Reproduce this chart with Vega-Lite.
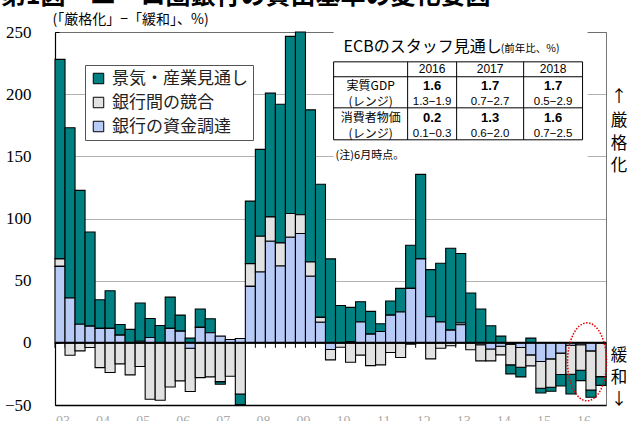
{
  "$schema": "https://vega.github.io/schema/vega-lite/v6.json",
  "width": 551,
  "height": 373,
  "autosize": {"type": "none"},
  "padding": {"left": 55, "top": 32, "right": 25, "bottom": 16},
  "background": "white",
  "config": {
    "view": {"stroke": "#777", "strokeWidth": 1},
    "font": "Noto Sans CJK JP"
  },
  "datasets": {
    "bls": [
      {"q": "2002Q4", "景気・産業見通し": 160.5, "銀行間の競合": 6, "銀行の資金調達": 61.5},
      {"q": "2003Q1", "景気・産業見通し": 137, "銀行間の競合": -10, "銀行の資金調達": 36},
      {"q": "2003Q2", "景気・産業見通し": 107.6, "銀行間の競合": -6.5, "銀行の資金調達": 15},
      {"q": "2003Q3", "景気・産業見通し": 75.8, "銀行間の競合": -3.8, "銀行の資金調達": 13.4},
      {"q": "2003Q4", "景気・産業見通し": 23, "銀行間の競合": -19.9, "銀行の資金調達": 11.6},
      {"q": "2004Q1", "景気・産業見通し": 30.3, "銀行間の競合": -23.9, "銀行の資金調達": 11.6},
      {"q": "2004Q2", "景気・産業見通し": 8.6, "銀行間の競合": -16.9, "銀行の資金調達": 6.2},
      {"q": "2004Q3", "景気・産業見通し": 10.8, "銀行間の競合": -25.8, "銀行の資金調達": 0},
      {"q": "2004Q4", "景気・産業見通し": 30.7, "銀行間の競合": -19, "銀行の資金調達": 1.3},
      {"q": "2005Q1", "景気・産業見通し": 15.3, "銀行間の競合": -45.4, "銀行の資金調達": 4.3},
      {"q": "2005Q2", "景気・産業見通し": 14, "銀行間の競合": -46.2, "銀行の資金調達": 0},
      {"q": "2005Q3", "景気・産業見通し": 25.2, "銀行間の競合": -35.5, "銀行の資金調達": 11.6},
      {"q": "2005Q4", "景気・産業見通し": 12.9, "銀行間の競合": -30.6, "銀行の資金調達": 9.4},
      {"q": "2006Q1", "景気・産業見通し": 3.8, "銀行間の競合": -34.9, "銀行の資金調達": -4.3},
      {"q": "2006Q2", "景気・産業見通し": 14.8, "銀行間の競合": -28, "銀行の資金調達": 12.4},
      {"q": "2006Q3", "景気・産業見通し": 11.3, "銀行間の競合": -27.4, "銀行の資金調達": 8.1},
      {"q": "2006Q4", "景気・産業見通し": -2.1, "銀行間の競合": -31.2, "銀行の資金調達": 5.4},
      {"q": "2007Q1", "景気・産業見通し": 0, "銀行間の競合": -26.9, "銀行の資金調達": 2.7},
      {"q": "2007Q2", "景気・産業見通し": -8.6, "銀行間の競合": -41.1, "銀行の資金調達": 3.5},
      {"q": "2007Q3", "景気・産業見通し": 50.3, "銀行間の競合": 18.3, "銀行の資金調達": 45.4},
      {"q": "2007Q4", "景気・産業見通し": 69.9, "銀行間の競合": 28.7, "銀行の資金調達": 57},
      {"q": "2008Q1", "景気・産業見通し": 99.5, "銀行間の競合": 19.6, "銀行の資金調達": 81.7},
      {"q": "2008Q2", "景気・産業見通し": 111.5, "銀行間の競合": 18.6, "銀行の資金調達": 61.8},
      {"q": "2008Q3", "景気・産業見通し": 142.5, "銀行間の競合": 19.1, "銀行の資金調達": 84.9},
      {"q": "2008Q4", "景気・産業見通し": 147, "銀行間の競合": 15.1, "銀行の資金調達": 87.9},
      {"q": "2009Q1", "景気・産業見通し": 122.4, "銀行間の競合": 11.5, "銀行の資金調達": 53.5},
      {"q": "2009Q2", "景気・産業見通し": 107, "銀行間の競合": 4, "銀行の資金調達": 16.5},
      {"q": "2009Q3", "景気・産業見通し": 67.5, "銀行間の競合": -8.3, "銀行の資金調達": -5.4},
      {"q": "2009Q4", "景気・産業見通し": 30, "銀行間の競合": -3.5, "銀行の資金調達": 0},
      {"q": "2010Q1", "景気・産業見通し": 27.5, "銀行間の競合": -15.6, "銀行の資金調達": 1},
      {"q": "2010Q2", "景気・産業見通し": 16.4, "銀行間の競合": -9.9, "銀行の資金調達": 16.7},
      {"q": "2010Q3", "景気・産業見通し": 18.3, "銀行間の競合": -18.3, "銀行の資金調達": 7},
      {"q": "2010Q4", "景気・産業見通し": 6.2, "銀行間の競合": -17.7, "銀行の資金調達": 9.1},
      {"q": "2011Q1", "景気・産業見通し": 11.3, "銀行間の競合": -7.8, "銀行の資金調達": 22.3},
      {"q": "2011Q2", "景気・産業見通し": 19, "銀行間の競合": -11.8, "銀行の資金調達": 24.8},
      {"q": "2011Q3", "景気・産業見通し": 34.7, "銀行間の競合": -1, "銀行の資金調達": 43.8},
      {"q": "2011Q4", "景気・産業見通し": 68, "銀行間の競合": 0, "銀行の資金調達": 67.5},
      {"q": "2012Q1", "景気・産業見通し": 37.9, "銀行間の競合": -12.9, "銀行の資金調達": 21},
      {"q": "2012Q2", "景気・産業見通し": 47.3, "銀行間の競合": -4.3, "銀行の資金調達": 16.7},
      {"q": "2012Q3", "景気・産業見通し": 65.9, "銀行間の競合": -2.4, "銀行の資金調達": 10.2},
      {"q": "2012Q4", "景気・産業見通し": 55.8, "銀行間の競合": 1.5, "銀行の資金調達": 14.5},
      {"q": "2013Q1", "景気・産業見通し": 40.1, "銀行間の競合": -5.6, "銀行の資金調達": 0},
      {"q": "2013Q2", "景気・産業見通し": 27.2, "銀行間の競合": -13, "銀行の資金調達": -1.5},
      {"q": "2013Q3", "景気・産業見通し": 13.7, "銀行間の競合": -9.5, "銀行の資金調達": -5},
      {"q": "2013Q4", "景気・産業見通し": 5.4, "銀行間の競合": -7, "銀行の資金調達": -2.7},
      {"q": "2014Q1", "景気・産業見通し": -7.3, "銀行間の競合": -16.7, "銀行の資金調達": -1},
      {"q": "2014Q2", "景気・産業見通し": -7.8, "銀行間の競合": -15.8, "銀行の資金調達": -3.8},
      {"q": "2014Q3", "景気・産業見通し": 3.8, "銀行間の競合": -8.8, "銀行の資金調達": -9.7},
      {"q": "2014Q4", "景気・産業見通し": -3.8, "銀行間の競合": -21.5, "銀行の資金調達": -15},
      {"q": "2015Q1", "景気・産業見通し": -3.3, "銀行間の競合": -22.8, "銀行の資金調達": -12.9},
      {"q": "2015Q2", "景気・産業見通し": -9.2, "銀行間の競合": -17.2, "銀行の資金調達": -8.3},
      {"q": "2015Q3", "景気・産業見通し": -15.8, "銀行間の競合": -23.3, "銀行の資金調達": -2},
      {"q": "2015Q4", "景気・産業見通し": -8.4, "銀行間の競合": -20.5, "銀行の資金調達": -1.5},
      {"q": "2016Q1", "景気・産業見通し": -5.9, "銀行間の競合": -31.4, "銀行の資金調達": -6.5},
      {"q": "2016Q2", "景気・産業見通し": -7, "銀行間の競合": -27.2, "銀行の資金調達": 0}
    ]
  },
  "layer": [
    {
      "data": {"name": "bls"},
      "layer": [
        {
          "mark": {"type": "rule", "color": "black", "strokeWidth": 1},
          "encoding": {
            "x": {"field": "q", "type": "ordinal", "bandPosition": 0,
                  "scale": {"type": "band", "paddingInner": 0, "paddingOuter": 0}},
            "y": {"datum": 0, "type": "quantitative"},
            "y2": {"datum": -4}
          }
        },
        {
          "transform": [
            {"fold": ["景気・産業見通し", "銀行間の競合", "銀行の資金調達"], "as": ["s", "val"]},
            {"calculate": "indexof(['銀行の資金調達','銀行間の競合','景気・産業見通し'], datum.s)", "as": "k"}
          ],
          "mark": {"type": "bar", "stroke": "black", "strokeWidth": 1.1},
          "encoding": {
            "x": {
              "field": "q", "type": "ordinal",
              "scale": {"type": "band", "paddingInner": 0, "paddingOuter": 0},
              "axis": {
                "title": null, "grid": false, "ticks": false, "domain": true,
                "domainColor": "black", "domainWidth": 1.5,
                "labelAngle": 0, "labelPadding": 16, "labelFontSize": 14,
                "labelColor": "#aaa", "labelFont": "Liberation Serif",
                "labelExpr": "slice(datum.value,-2)=='Q1' ? slice(datum.value,2,4) : ''"
              }
            },
            "y": {
              "field": "val", "type": "quantitative", "stack": "zero",
              "scale": {"domain": [-50, 250], "nice": false},
              "axis": {
                "title": null, "values": [-50, 0, 50, 100, 150, 200, 250],
                "grid": true, "gridDash": [1, 1], "gridColor": "#666", "gridWidth": 1,
                "labelFont": "Liberation Serif", "labelFontSize": 17, "labelColor": "black",
                "domainColor": "black", "domainWidth": 1.2,
                "tickSize": -4, "tickColor": "black", "labelPadding": 28
              }
            },
            "color": {
              "field": "s", "type": "nominal",
              "scale": {
                "domain": ["景気・産業見通し", "銀行間の競合", "銀行の資金調達"],
                "range": ["#008080", "#e2e2e2", "#b8cbf7"]
              },
              "legend": {
                "title": null, "orient": "none", "legendX": 30, "legendY": 33,
                "symbolType": "square", "symbolSize": 110,
                "symbolStrokeColor": "black", "symbolStrokeWidth": 1,
                "labelFont": "Noto Sans CJK JP", "labelFontSize": 17, "labelColor": "#222",
                "labelOffset": 5, "rowPadding": 6, "padding": 5,
                "strokeColor": "#555", "fillColor": "white"
              }
            },
            "order": {"field": "k", "type": "quantitative"}
          }
        },
        {
          "data": {"values": [{}]},
          "mark": {"type": "rule", "color": "black", "strokeWidth": 2},
          "encoding": {"y": {"datum": 0, "type": "quantitative"}}
        }
      ]
    },
    {
      "data": {"values": [{}]},
      "layer": [
        {
          "mark": {"type": "rect", "fill": "white"},
          "encoding": {
            "x": {"datum": 27.81, "type": "quantitative", "scale": {"domain": [0, 55], "nice": false, "zero": false}, "axis": null},
            "x2": {"datum": 53.16},
            "y": {"datum": 250, "type": "quantitative"},
            "y2": {"datum": 147.2}
          }
        },
        {
          "mark": {"type": "rect", "fill": "white", "stroke": "black", "strokeWidth": 1},
          "encoding": {
            "x": {"datum": 27.81, "type": "quantitative", "scale": {"domain": [0, 55], "nice": false, "zero": false}, "axis": null},
            "x2": {"datum": 52.66},
            "y": {"datum": 226.0, "type": "quantitative"},
            "y2": {"datum": 163.3}
          }
        },
        {
          "mark": {"type": "rule", "color": "black", "strokeWidth": 1},
          "encoding": {
            "x": {"datum": 27.81, "type": "quantitative", "scale": {"domain": [0, 55], "nice": false, "zero": false}, "axis": null},
            "x2": {"datum": 52.66},
            "y": {"datum": 214.0, "type": "quantitative"}
          }
        },
        {
          "mark": {"type": "rule", "color": "black", "strokeWidth": 1},
          "encoding": {
            "x": {"datum": 27.81, "type": "quantitative", "scale": {"domain": [0, 55], "nice": false, "zero": false}, "axis": null},
            "x2": {"datum": 52.66},
            "y": {"datum": 189.0, "type": "quantitative"}
          }
        },
        {
          "mark": {"type": "rule", "color": "black", "strokeWidth": 1},
          "encoding": {
            "x": {"datum": 35.20, "type": "quantitative", "scale": {"domain": [0, 55], "nice": false, "zero": false}, "axis": null},
            "y": {"datum": 226.0, "type": "quantitative"},
            "y2": {"datum": 163.3}
          }
        },
        {
          "mark": {"type": "rule", "color": "black", "strokeWidth": 1},
          "encoding": {
            "x": {"datum": 40.09, "type": "quantitative", "scale": {"domain": [0, 55], "nice": false, "zero": false}, "axis": null},
            "y": {"datum": 226.0, "type": "quantitative"},
            "y2": {"datum": 163.3}
          }
        },
        {
          "mark": {"type": "rule", "color": "black", "strokeWidth": 1},
          "encoding": {
            "x": {"datum": 46.78, "type": "quantitative", "scale": {"domain": [0, 55], "nice": false, "zero": false}, "axis": null},
            "y": {"datum": 226.0, "type": "quantitative"},
            "y2": {"datum": 163.3}
          }
        },
        {
          "mark": {"type": "text", "align": "left", "baseline": "middle", "fontSize": 16, "font": "Noto Sans CJK JP", "color": "black"},
          "encoding": {
            "x": {"datum": 28.81, "type": "quantitative", "scale": {"domain": [0, 55], "nice": false, "zero": false}, "axis": null},
            "y": {"datum": 237.7, "type": "quantitative"},
            "text": {"value": "ECBのスタッフ見通し"}
          }
        },
        {
          "mark": {"type": "text", "align": "left", "baseline": "middle", "fontSize": 10.5, "font": "Noto Sans CJK JP", "color": "black"},
          "encoding": {
            "x": {"datum": 44.5, "type": "quantitative", "scale": {"domain": [0, 55], "nice": false, "zero": false}, "axis": null},
            "y": {"datum": 236.3, "type": "quantitative"},
            "text": {"value": "(前年比、%)"}
          }
        },
        {
          "mark": {"type": "text", "align": "center", "baseline": "middle", "fontSize": 12, "font": "Liberation Sans Narrow, Liberation Sans", "color": "black"},
          "encoding": {
            "x": {"datum": 37.64, "type": "quantitative", "scale": {"domain": [0, 55], "nice": false, "zero": false}, "axis": null},
            "y": {"datum": 220.0, "type": "quantitative"},
            "text": {"value": "2016"}
          }
        },
        {
          "mark": {"type": "text", "align": "center", "baseline": "middle", "fontSize": 12, "font": "Liberation Sans Narrow, Liberation Sans", "color": "black"},
          "encoding": {
            "x": {"datum": 43.43, "type": "quantitative", "scale": {"domain": [0, 55], "nice": false, "zero": false}, "axis": null},
            "y": {"datum": 220.0, "type": "quantitative"},
            "text": {"value": "2017"}
          }
        },
        {
          "mark": {"type": "text", "align": "center", "baseline": "middle", "fontSize": 12, "font": "Liberation Sans Narrow, Liberation Sans", "color": "black"},
          "encoding": {
            "x": {"datum": 49.72, "type": "quantitative", "scale": {"domain": [0, 55], "nice": false, "zero": false}, "axis": null},
            "y": {"datum": 220.0, "type": "quantitative"},
            "text": {"value": "2018"}
          }
        },
        {
          "mark": {"type": "text", "align": "center", "baseline": "middle", "fontSize": 12, "font": "Noto Sans CJK JP", "color": "black"},
          "encoding": {
            "x": {"datum": 31.51, "type": "quantitative", "scale": {"domain": [0, 55], "nice": false, "zero": false}, "axis": null},
            "y": {"datum": 206.4, "type": "quantitative"},
            "text": {"value": "実質GDP"}
          }
        },
        {
          "mark": {"type": "text", "align": "center", "baseline": "middle", "fontSize": 12, "font": "Noto Sans CJK JP", "color": "black"},
          "encoding": {
            "x": {"datum": 31.51, "type": "quantitative", "scale": {"domain": [0, 55], "nice": false, "zero": false}, "axis": null},
            "y": {"datum": 194.0, "type": "quantitative"},
            "text": {"value": "(レンジ)"}
          }
        },
        {
          "mark": {"type": "text", "align": "center", "baseline": "middle", "fontSize": 12, "font": "Noto Sans CJK JP", "color": "black"},
          "encoding": {
            "x": {"datum": 31.51, "type": "quantitative", "scale": {"domain": [0, 55], "nice": false, "zero": false}, "axis": null},
            "y": {"datum": 180.7, "type": "quantitative"},
            "text": {"value": "消費者物価"}
          }
        },
        {
          "mark": {"type": "text", "align": "center", "baseline": "middle", "fontSize": 12, "font": "Noto Sans CJK JP", "color": "black"},
          "encoding": {
            "x": {"datum": 31.51, "type": "quantitative", "scale": {"domain": [0, 55], "nice": false, "zero": false}, "axis": null},
            "y": {"datum": 168.2, "type": "quantitative"},
            "text": {"value": "(レンジ)"}
          }
        },
        {
          "mark": {"type": "text", "align": "center", "baseline": "middle", "fontSize": 13, "fontWeight": "bold", "font": "Liberation Sans Narrow, Liberation Sans", "color": "black"},
          "encoding": {
            "x": {"datum": 37.64, "type": "quantitative", "scale": {"domain": [0, 55], "nice": false, "zero": false}, "axis": null},
            "y": {"datum": 206.4, "type": "quantitative"},
            "text": {"value": "1.6"}
          }
        },
        {
          "mark": {"type": "text", "align": "center", "baseline": "middle", "fontSize": 13, "fontWeight": "bold", "font": "Liberation Sans Narrow, Liberation Sans", "color": "black"},
          "encoding": {
            "x": {"datum": 43.43, "type": "quantitative", "scale": {"domain": [0, 55], "nice": false, "zero": false}, "axis": null},
            "y": {"datum": 206.4, "type": "quantitative"},
            "text": {"value": "1.7"}
          }
        },
        {
          "mark": {"type": "text", "align": "center", "baseline": "middle", "fontSize": 13, "fontWeight": "bold", "font": "Liberation Sans Narrow, Liberation Sans", "color": "black"},
          "encoding": {
            "x": {"datum": 49.72, "type": "quantitative", "scale": {"domain": [0, 55], "nice": false, "zero": false}, "axis": null},
            "y": {"datum": 206.4, "type": "quantitative"},
            "text": {"value": "1.7"}
          }
        },
        {
          "mark": {"type": "text", "align": "center", "baseline": "middle", "fontSize": 13, "fontWeight": "bold", "font": "Liberation Sans Narrow, Liberation Sans", "color": "black"},
          "encoding": {
            "x": {"datum": 37.64, "type": "quantitative", "scale": {"domain": [0, 55], "nice": false, "zero": false}, "axis": null},
            "y": {"datum": 180.7, "type": "quantitative"},
            "text": {"value": "0.2"}
          }
        },
        {
          "mark": {"type": "text", "align": "center", "baseline": "middle", "fontSize": 13, "fontWeight": "bold", "font": "Liberation Sans Narrow, Liberation Sans", "color": "black"},
          "encoding": {
            "x": {"datum": 43.43, "type": "quantitative", "scale": {"domain": [0, 55], "nice": false, "zero": false}, "axis": null},
            "y": {"datum": 180.7, "type": "quantitative"},
            "text": {"value": "1.3"}
          }
        },
        {
          "mark": {"type": "text", "align": "center", "baseline": "middle", "fontSize": 13, "fontWeight": "bold", "font": "Liberation Sans Narrow, Liberation Sans", "color": "black"},
          "encoding": {
            "x": {"datum": 49.72, "type": "quantitative", "scale": {"domain": [0, 55], "nice": false, "zero": false}, "axis": null},
            "y": {"datum": 180.7, "type": "quantitative"},
            "text": {"value": "1.6"}
          }
        },
        {
          "mark": {"type": "text", "align": "center", "baseline": "middle", "fontSize": 11.5, "font": "Liberation Sans Narrow, Liberation Sans", "color": "black"},
          "encoding": {
            "x": {"datum": 37.64, "type": "quantitative", "scale": {"domain": [0, 55], "nice": false, "zero": false}, "axis": null},
            "y": {"datum": 194.0, "type": "quantitative"},
            "text": {"value": "1.3−1.9"}
          }
        },
        {
          "mark": {"type": "text", "align": "center", "baseline": "middle", "fontSize": 11.5, "font": "Liberation Sans Narrow, Liberation Sans", "color": "black"},
          "encoding": {
            "x": {"datum": 43.43, "type": "quantitative", "scale": {"domain": [0, 55], "nice": false, "zero": false}, "axis": null},
            "y": {"datum": 194.0, "type": "quantitative"},
            "text": {"value": "0.7−2.7"}
          }
        },
        {
          "mark": {"type": "text", "align": "center", "baseline": "middle", "fontSize": 11.5, "font": "Liberation Sans Narrow, Liberation Sans", "color": "black"},
          "encoding": {
            "x": {"datum": 49.72, "type": "quantitative", "scale": {"domain": [0, 55], "nice": false, "zero": false}, "axis": null},
            "y": {"datum": 194.0, "type": "quantitative"},
            "text": {"value": "0.5−2.9"}
          }
        },
        {
          "mark": {"type": "text", "align": "center", "baseline": "middle", "fontSize": 11.5, "font": "Liberation Sans Narrow, Liberation Sans", "color": "black"},
          "encoding": {
            "x": {"datum": 37.64, "type": "quantitative", "scale": {"domain": [0, 55], "nice": false, "zero": false}, "axis": null},
            "y": {"datum": 168.2, "type": "quantitative"},
            "text": {"value": "0.1−0.3"}
          }
        },
        {
          "mark": {"type": "text", "align": "center", "baseline": "middle", "fontSize": 11.5, "font": "Liberation Sans Narrow, Liberation Sans", "color": "black"},
          "encoding": {
            "x": {"datum": 43.43, "type": "quantitative", "scale": {"domain": [0, 55], "nice": false, "zero": false}, "axis": null},
            "y": {"datum": 168.2, "type": "quantitative"},
            "text": {"value": "0.6−2.0"}
          }
        },
        {
          "mark": {"type": "text", "align": "center", "baseline": "middle", "fontSize": 11.5, "font": "Liberation Sans Narrow, Liberation Sans", "color": "black"},
          "encoding": {
            "x": {"datum": 49.72, "type": "quantitative", "scale": {"domain": [0, 55], "nice": false, "zero": false}, "axis": null},
            "y": {"datum": 168.2, "type": "quantitative"},
            "text": {"value": "0.7−2.5"}
          }
        },
        {
          "mark": {"type": "text", "align": "left", "baseline": "middle", "fontSize": 11, "font": "Noto Sans CJK JP", "color": "black"},
          "encoding": {
            "x": {"datum": 28.01, "type": "quantitative", "scale": {"domain": [0, 55], "nice": false, "zero": false}, "axis": null},
            "y": {"datum": 150.4, "type": "quantitative"},
            "text": {"value": "(注)6月時点。"}
          }
        },
        {
          "mark": {"type": "text", "align": "left", "baseline": "middle", "fontSize": 14, "font": "Noto Sans CJK JP", "color": "black"},
          "encoding": {
            "x": {"datum": -0.25, "type": "quantitative", "scale": {"domain": [0, 55], "nice": false, "zero": false}, "axis": null},
            "y": {"datum": 259.3, "type": "quantitative"},
            "text": {"value": "(「厳格化」−「緩和」、%)"}
          }
        },
        {
          "mark": {"type": "text", "align": "left", "baseline": "alphabetic", "fontSize": 25, "fontWeight": "bold", "font": "Noto Sans CJK JP", "color": "black"},
          "encoding": {
            "x": {"datum": -5.42, "type": "quantitative", "scale": {"domain": [0, 55], "nice": false, "zero": false}, "axis": null},
            "y": {"datum": 272.8, "type": "quantitative"},
            "text": {"value": "第1図　ユーロ圏銀行の貸出基準の変化要因"}
          }
        },
        {
          "mark": {"type": "text", "align": "center", "baseline": "middle", "fontSize": 16.5, "font": "Noto Sans CJK JP", "color": "black"},
          "encoding": {
            "x": {"datum": 56.3, "type": "quantitative", "scale": {"domain": [0, 55], "nice": false, "zero": false}, "axis": null},
            "y": {"datum": 197.9, "type": "quantitative"},
            "text": {"value": "↑"}
          }
        },
        {
          "mark": {"type": "text", "align": "center", "baseline": "middle", "fontSize": 16.5, "font": "Noto Sans CJK JP", "color": "black"},
          "encoding": {
            "x": {"datum": 56.3, "type": "quantitative", "scale": {"domain": [0, 55], "nice": false, "zero": false}, "axis": null},
            "y": {"datum": 178.6, "type": "quantitative"},
            "text": {"value": "厳"}
          }
        },
        {
          "mark": {"type": "text", "align": "center", "baseline": "middle", "fontSize": 16.5, "font": "Noto Sans CJK JP", "color": "black"},
          "encoding": {
            "x": {"datum": 56.3, "type": "quantitative", "scale": {"domain": [0, 55], "nice": false, "zero": false}, "axis": null},
            "y": {"datum": 160.1, "type": "quantitative"},
            "text": {"value": "格"}
          }
        },
        {
          "mark": {"type": "text", "align": "center", "baseline": "middle", "fontSize": 16.5, "font": "Noto Sans CJK JP", "color": "black"},
          "encoding": {
            "x": {"datum": 56.3, "type": "quantitative", "scale": {"domain": [0, 55], "nice": false, "zero": false}, "axis": null},
            "y": {"datum": 142.4, "type": "quantitative"},
            "text": {"value": "化"}
          }
        },
        {
          "mark": {"type": "text", "align": "center", "baseline": "middle", "fontSize": 16.5, "font": "Noto Sans CJK JP", "color": "black"},
          "encoding": {
            "x": {"datum": 56.3, "type": "quantitative", "scale": {"domain": [0, 55], "nice": false, "zero": false}, "axis": null},
            "y": {"datum": -10.5, "type": "quantitative"},
            "text": {"value": "緩"}
          }
        },
        {
          "mark": {"type": "text", "align": "center", "baseline": "middle", "fontSize": 16.5, "font": "Noto Sans CJK JP", "color": "black"},
          "encoding": {
            "x": {"datum": 56.3, "type": "quantitative", "scale": {"domain": [0, 55], "nice": false, "zero": false}, "axis": null},
            "y": {"datum": -28.4, "type": "quantitative"},
            "text": {"value": "和"}
          }
        },
        {
          "mark": {"type": "text", "align": "center", "baseline": "middle", "fontSize": 16.5, "font": "Noto Sans CJK JP", "color": "black"},
          "encoding": {
            "x": {"datum": 56.3, "type": "quantitative", "scale": {"domain": [0, 55], "nice": false, "zero": false}, "axis": null},
            "y": {"datum": -45.6, "type": "quantitative"},
            "text": {"value": "↓"}
          }
        },
        {
          "mark": {"type": "point", "shape": "M -0.5 0 A 0.5 1 0 1 0 0.5 0 A 0.5 1 0 1 0 -0.5 0 Z", "filled": false, "size": 6084, "stroke": "#e00000", "strokeWidth": 1.5, "strokeDash": [1.5, 1.5], "opacity": 1},
          "encoding": {
            "x": {"datum": 53.11, "type": "quantitative", "scale": {"domain": [0, 55], "nice": false, "zero": false}, "axis": null},
            "y": {"datum": -15.3, "type": "quantitative"}
          }
        }
      ]
    }
  ],
  "resolve": {"scale": {"x": "independent"}, "axis": {"x": "independent"}}
}
